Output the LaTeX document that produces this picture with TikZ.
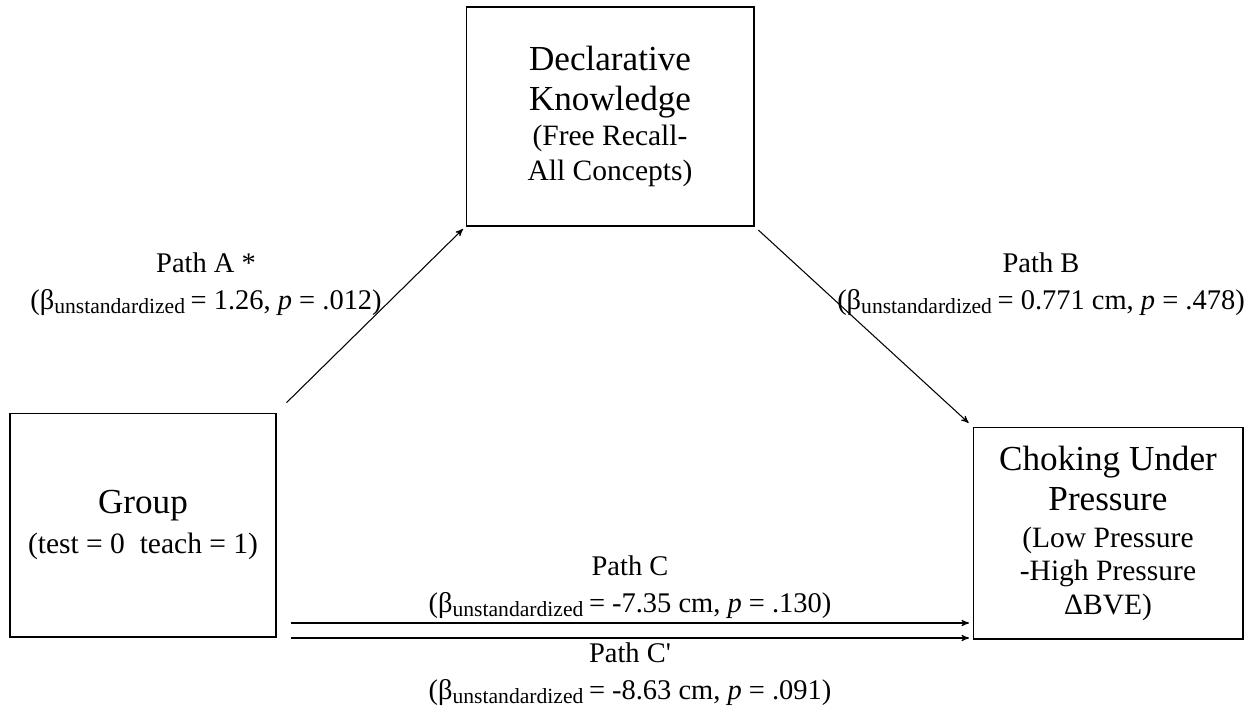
\documentclass[tikz,border=0pt]{standalone}
\usepackage{fontspec}
\setmainfont{Liberation Serif}
\usetikzlibrary{arrows}
\usetikzlibrary{calc}

\newcommand{\bigtxt}{\fontsize{20}{23}\selectfont}
\newcommand{\subtxt}{\fontsize{16.8}{20}\selectfont}
\newcommand{\labtxt}{\fontsize{16.2}{21}\selectfont}
\newcommand{\bunst}{(β\textsubscript{\fontsize{12.3}{13}\selectfont unstandardized}\,=}

\begin{document}
\begin{tikzpicture}[x=0.02cm,y=-0.02cm]
                \useasboundingbox (0,0) rectangle (1256,710);
                \begin{scope}[->,>=stealth',line width=0.6pt,
                  var node/.style={rectangle,draw,line width=0.6pt,align=center,inner sep=0pt,font=\bigtxt},
                  path label/.style={align=center,inner sep=0pt,font=\labtxt}]
                \node[var node,minimum width=5.76cm,minimum height=4.38cm] (decl) at (610,116.5)
                  {Declarative\\ Knowledge\\[-3pt] {\subtxt (Free Recall-}\\[-3pt] {\subtxt All Concepts)}};
                \node[var node,minimum width=5.32cm,minimum height=4.48cm] (group) at (143,525)
                  {Group\\ {\subtxt (test = 0\ \ teach = 1)}};
                \node[var node,minimum width=5.4cm,minimum height=4.24cm] (choke) at (1108,533)
                  {Choking Under\\ Pressure\\[-2pt] {\subtxt (Low Pressure}\\[-4pt] {\subtxt -High Pressure}\\[-4pt] {\subtxt ΔBVE)}};
                \node[path label] (pathA) at (206,284) {Path A *\\ \bunst{} 1.26, \textit{p} = .012)};
                \node[path label] (pathB) at (1041,284) {Path B\\ \bunst{} 0.771 cm, \textit{p} = .478)};
                \node[path label] (pathC) at (630,587) {Path C\\ \bunst{} -7.35 cm, \textit{p} = .130)};
                \node[path label] (pathCp) at (630,674) {Path C\textquotesingle\\ \bunst{} -8.63 cm, \textit{p} = .091)};
                \coordinate (cy) at (0,623);
                \coordinate (cpy) at (0,638);
                \path[every edge/.style={draw,->,line width=0.6pt}]
                (group.north east) edge[shorten <=8pt,shorten >=2pt] (decl.south west)
                (decl.south east) edge[shorten <=3pt,shorten >=3pt] (choke.north west)
                (group.east |- cy) edge[shorten <=8pt,shorten >=2pt] (choke.west |- cy)
                (group.east |- cpy) edge[shorten <=8pt,shorten >=2pt] (choke.west |- cpy);
                \end{scope}
            \end{tikzpicture}
\end{document}
